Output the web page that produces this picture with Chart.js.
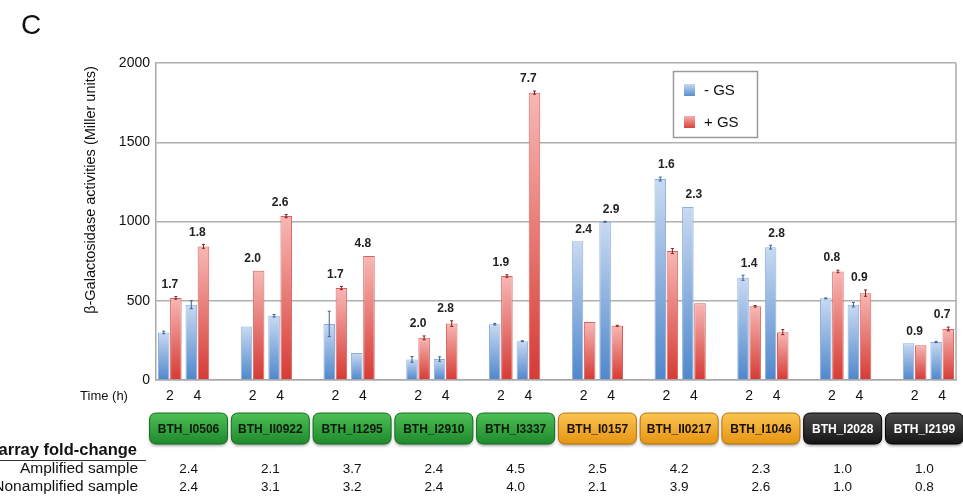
<!DOCTYPE html>
<html>
<head>
<meta charset="utf-8">
<script src="https://cdn.jsdelivr.net/npm/chart.js@4.4.0/dist/chart.umd.min.js"></script>
<style>
  body { margin: 0; background: #fff; }
  #wrap { width: 963px; height: 500px; }
</style>
</head>
<body>
<div id="wrap"><canvas id="chart" width="963" height="500"></canvas></div>
<script>
// data
var genes = ['BTH_I0506', 'BTH_II0922', 'BTH_I1295', 'BTH_I2910', 'BTH_I3337',
             'BTH_I0157', 'BTH_II0217', 'BTH_I1046', 'BTH_I2028', 'BTH_I2199'];
var geneGroup = [1, 1, 1, 1, 1, 2, 2, 2, 3, 3];
var timePoints = ['2', '4'];
var seriesNames = ['- GS', '+ GS'];
// one value per gene and time point (gene1 2h, gene1 4h, gene2 2h, ...)
var minusGS = [300, 475, 338, 405, 354, 170, 130, 132, 352, 245,
               875, 998, 1268, 1092, 645, 838, 515, 475, 232, 240];
var plusGS = [518, 843, 690, 1034, 580, 782, 266, 356, 656, 1813,
              366, 342, 814, 484, 465, 302, 685, 548, 220, 322];
var minusErr = [8, 25, 0, 8, 80, 0, 18, 14, 5, 3, 0, 3, 12, 0, 16, 12, 3, 14, 0, 4];
var plusErr = [8, 12, 0, 10, 10, 0, 12, 18, 8, 10, 0, 3, 16, 0, 5, 16, 8, 20, 0, 12];
var foldLabels = ['1.7', '1.8', '2.0', '2.6', '1.7', '4.8', '2.0', '2.8', '1.9', '7.7',
                  '2.4', '2.9', '1.6', '2.3', '1.4', '2.8', '0.8', '0.9', '0.9', '0.7'];
var amplified = ['2.4', '2.1', '3.7', '2.4', '4.5', '2.5', '4.2', '2.3', '1.0', '1.0'];
var nonamplified = ['2.4', '3.1', '3.2', '2.4', '4.0', '2.1', '3.9', '2.6', '1.0', '0.8'];
var yTicks = [0, 500, 1000, 1500, 2000];

// build slots: two time points per gene, an empty slot between genes
var labels = [], blueData = [], redData = [], blueErr = [], redErr = [], folds = [], geneSlots = [];
genes.forEach(function (g, gi) {
    geneSlots.push(labels.length);
    timePoints.forEach(function (t, ti) {
        var k = gi * 2 + ti;
        labels.push(t);
        blueData.push(minusGS[k]);
        redData.push(plusGS[k]);
        blueErr.push(minusErr[k]);
        redErr.push(plusErr[k]);
        folds.push(foldLabels[k]);
    });
    if (gi < genes.length - 1) {
        labels.push('');
        blueData.push(null);
        redData.push(null);
        blueErr.push(null);
        redErr.push(null);
        folds.push(null);
    }
});

var barGrad = function (top, bottom) {
    return function (context) {
        var chart = context.chart;
        if (!chart.chartArea || context.raw == null) return bottom;
        var y = chart.scales.y;
        var y0 = y.getPixelForValue(context.raw);
        var y1 = y.getPixelForValue(0);
        if (y1 - y0 < 1) return bottom;
        var g = chart.ctx.createLinearGradient(0, y0, 0, y1);
        g.addColorStop(0, top);
        g.addColorStop(1, bottom);
        return g;
    };
};

var roundRect = function (ctx, x, y, w, h, r) {
    ctx.beginPath();
    ctx.moveTo(x + r, y);
    ctx.lineTo(x + w - r, y);
    ctx.quadraticCurveTo(x + w, y, x + w, y + r);
    ctx.lineTo(x + w, y + h - r);
    ctx.quadraticCurveTo(x + w, y + h, x + w - r, y + h);
    ctx.lineTo(x + r, y + h);
    ctx.quadraticCurveTo(x, y + h, x, y + h - r);
    ctx.lineTo(x, y + r);
    ctx.quadraticCurveTo(x, y, x + r, y);
    ctx.closePath();
};

var extras = {
    id: 'extras',
    afterDatasetsDraw: function (chart) {
        var ctx = chart.ctx, y = chart.scales.y, a = chart.chartArea;
        ctx.save();
        // right frame line
        ctx.strokeStyle = '#a8a8a8';
        ctx.lineWidth = 1.5;
        ctx.beginPath();
        ctx.moveTo(a.right, a.top);
        ctx.lineTo(a.right, a.bottom);
        ctx.stroke();
        // error bars
        [[0, blueData, blueErr, '#3a5f96'], [1, redData, redErr, '#8a2020']].forEach(function (s) {
            var meta = chart.getDatasetMeta(s[0]);
            ctx.strokeStyle = s[3];
            ctx.lineWidth = 1;
            meta.data.forEach(function (el, i) {
                var v = s[1][i], e = s[2][i];
                if (v == null || !e) return;
                var yt = y.getPixelForValue(v + e), yb = y.getPixelForValue(v - e);
                ctx.beginPath();
                ctx.moveTo(el.x, yt); ctx.lineTo(el.x, yb);
                ctx.moveTo(el.x - 1.5, yt); ctx.lineTo(el.x + 1.5, yt);
                ctx.moveTo(el.x - 1.5, yb); ctx.lineTo(el.x + 1.5, yb);
                ctx.stroke();
            });
        });
        // fold-change labels
        var xs = chart.scales.x;
        ctx.fillStyle = '#222';
        ctx.font = 'bold 12px "Liberation Sans", Arial, sans-serif';
        ctx.textAlign = 'center';
        ctx.textBaseline = 'bottom';
        folds.forEach(function (f, i) {
            if (f == null) return;
            var top = Math.max(blueData[i] + (blueErr[i] || 0), redData[i] + (redErr[i] || 0));
            ctx.fillText(f, xs.getPixelForValue(i), y.getPixelForValue(top) - 6);
        });
        ctx.restore();
    },
    afterDraw: function (chart) {
        var ctx = chart.ctx, xs = chart.scales.x;
        var font = '"Liberation Sans", Arial, sans-serif';
        ctx.save();
        ctx.fillStyle = '#111';
        ctx.font = '28px ' + font;
        ctx.textAlign = 'left';
        ctx.textBaseline = 'middle';
        ctx.fillText('C', 21, 26);

        // y axis title
        ctx.save();
        ctx.translate(91, 190);
        ctx.rotate(-Math.PI / 2);
        ctx.textAlign = 'center';
        ctx.font = '14.5px ' + font;
        ctx.fillText('\u03b2-Galactosidase activities (Miller units)', 0, 0);
        ctx.restore();

        ctx.font = '13px ' + font;
        ctx.textAlign = 'center';
        ctx.fillText('Time (h)', 104, 396);

        // legend
        ctx.strokeStyle = '#9a9a9a';
        ctx.lineWidth = 1.5;
        ctx.strokeRect(673.5, 71.5, 84, 66);
        var sw = [['#c6d8f0', '#5a8fd0'], ['#f5b0ae', '#d8433d']];
        seriesNames.forEach(function (n, i) {
            var yy = 90 + i * 32;
            var g = ctx.createLinearGradient(0, yy - 6, 0, yy + 6);
            g.addColorStop(0, sw[i][0]);
            g.addColorStop(1, sw[i][1]);
            ctx.fillStyle = g;
            ctx.fillRect(684, yy - 6, 11, 12);
            ctx.fillStyle = '#111';
            ctx.font = '15px ' + font;
            ctx.textAlign = 'left';
            ctx.fillText(n, 704, yy + 1);
        });

        // gene boxes; the table below is a little narrower than the bar groups
        var boxCol = {
            1: ['#4cbf55', '#1f8a2c', '#176b22', '#0c1a0c'],
            2: ['#fbc552', '#e59412', '#b8740c', '#1a1000'],
            3: ['#4a4a4a', '#151515', '#000', '#ffffff']
        };
        var mid = (xs.getPixelForValue(geneSlots[5]) + xs.getPixelForValue(geneSlots[5] + 1)) / 2;
        genes.forEach(function (g, gi) {
            var gc = (xs.getPixelForValue(geneSlots[gi]) + xs.getPixelForValue(geneSlots[gi] + 1)) / 2;
            var cx = mid + (gc - mid) * 0.988;
            var c = boxCol[geneGroup[gi]];
            var w = 78, h = 31, x0 = cx - w / 2, y0 = 413;
            var gr = ctx.createLinearGradient(0, y0, 0, y0 + h);
            gr.addColorStop(0, c[0]);
            gr.addColorStop(1, c[1]);
            ctx.save();
            ctx.shadowColor = 'rgba(0,0,0,0.35)';
            ctx.shadowBlur = 3;
            ctx.shadowOffsetY = 2;
            roundRect(ctx, x0, y0, w, h, 7);
            ctx.fillStyle = gr;
            ctx.fill();
            ctx.restore();
            ctx.strokeStyle = c[2];
            ctx.lineWidth = 1;
            roundRect(ctx, x0, y0, w, h, 7);
            ctx.stroke();
            ctx.fillStyle = c[3];
            ctx.font = 'bold 12px ' + font;
            ctx.textAlign = 'center';
            ctx.fillText(g, cx, y0 + h / 2 + 1);
            ctx.fillStyle = '#111';
            ctx.font = '13.5px ' + font;
            ctx.fillText(amplified[gi], cx, 469);
            ctx.fillText(nonamplified[gi], cx, 487);
        });

        // table row titles
        ctx.textAlign = 'right';
        ctx.fillStyle = '#111';
        ctx.font = 'bold 16.5px ' + font;
        ctx.fillText('Microarray fold-change', 137, 450);
        ctx.strokeStyle = '#333';
        ctx.lineWidth = 1;
        ctx.beginPath();
        ctx.moveTo(0, 460.5);
        ctx.lineTo(146, 460.5);
        ctx.stroke();
        ctx.font = '15.5px ' + font;
        ctx.fillText('Amplified sample', 138, 469);
        ctx.fillText('Nonamplified sample', 138, 487);
        ctx.restore();
    }
};

new Chart(document.getElementById('chart').getContext('2d'), {
    type: 'bar',
    data: {
        labels: labels,
        datasets: [
            {
                label: seriesNames[0],
                data: blueData,
                backgroundColor: barGrad('#c9daf1', '#4f87cc'),
                borderColor: '#8eaedb',
                borderWidth: 1
            },
            {
                label: seriesNames[1],
                data: redData,
                backgroundColor: barGrad('#f7b8b5', '#d63a34'),
                borderColor: '#d8625d',
                borderWidth: 1
            }
        ]
    },
    options: {
        responsive: false,
        animation: false,
        categoryPercentage: 0.88,
        barPercentage: 0.95,
        layout: { padding: { left: 0, right: 7, top: 63, bottom: 0 } },
        plugins: {
            legend: { display: false },
            tooltip: { enabled: false }
        },
        scales: {
            x: {
                grid: { display: false, drawTicks: false },
                border: { color: '#a8a8a8', width: 1.5 },
                ticks: {
                    autoSkip: false,
                    maxRotation: 0,
                    padding: 8,
                    color: '#111',
                    font: { size: 14, family: '"Liberation Sans", Arial, sans-serif' }
                },
                afterFit: function (scale) { scale.height = 120; }
            },
            y: {
                min: 0,
                max: 2000,
                afterBuildTicks: function (scale) {
                    scale.ticks = yTicks.map(function (v) { return { value: v }; });
                },
                grid: { color: '#b0b0b0', lineWidth: 1.5, drawTicks: false },
                border: { color: '#a8a8a8', width: 1.5 },
                ticks: {
                    padding: 6,
                    color: '#111',
                    font: { size: 14, family: '"Liberation Sans", Arial, sans-serif' },
                    callback: function (v) { return String(v); }
                },
                afterFit: function (scale) { scale.width = 156; }
            }
        }
    },
    plugins: [extras]
});
</script>
</body>
</html>
